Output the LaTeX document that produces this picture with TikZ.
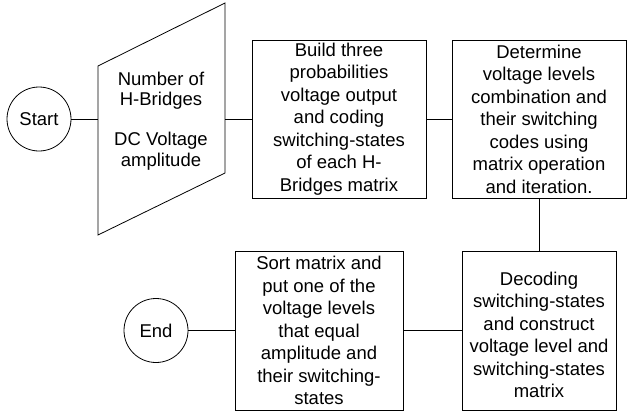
\documentclass[tikz,border=0pt]{standalone}
\usepackage{fontspec}
\setmainfont{Liberation Sans}
\begin{document}
\begin{tikzpicture}[x=1pt,y=-1pt,
  every node/.style={font=\fontsize{18.5}{22.5}\selectfont},
  term/.style={draw,circle,line width=0.8pt,minimum size=64pt,inner sep=0pt},
  procbox/.style={draw,rectangle,line width=0.8pt,align=center,inner sep=0pt},
  conn/.style={line width=0.8pt}]
\useasboundingbox (0,0) rectangle (628,412);
% start
\node[term] (start) at (39,119) {Start};
% trapezoid input
\coordinate (tTL) at (98,66);
\coordinate (tTR) at (225,3);
\coordinate (tBR) at (225,173);
\coordinate (tBL) at (98,235);
\draw[line width=0.8pt] (tTL) -- (tTR) -- (tBR) -- (tBL) -- cycle;
\coordinate (trapL) at (98,119);
\coordinate (trapR) at (225,119);
\node[align=center,font=\fontsize{18.5}{20.2}\selectfont] (trapText) at (161,121) {Number of\\H-Bridges\\[20.2pt]DC Voltage\\amplitude};
% boxes
\node[procbox,minimum width=174pt,minimum height=158pt] (build) at (339,119)
  {Build three\\probabilities\\voltage output\\and coding\\switching-states\\of each H-\\Bridges matrix};
\node[procbox,minimum width=174pt,minimum height=158pt] (determine) at (539,119)
  {Determine\\voltage levels\\combination and\\their switching\\codes using\\matrix operation\\and iteration.};
\node[procbox,minimum width=154pt,minimum height=159pt] (decode) at (539,330.5)
  {\mbox{}\\Decoding\\switching-states\\and construct\\voltage level and\\switching-states\\matrix};
\node[procbox,minimum width=168pt,minimum height=159pt] (sort) at (319,330.5)
  {Sort matrix and\\put one of the\\voltage levels\\that equal\\amplitude and\\their switching-\\states};
\node[term] (end) at (156,330.5) {End};
% connectors
\draw[conn] (start.east) -- (trapL);
\draw[conn] (trapR) -- (build.west);
\draw[conn] (build.east) -- (determine.west);
\draw[conn] (determine.south) -- (decode.north);
\draw[conn] (decode.west) -- (sort.west -| sort.east);
\draw[conn] (sort.west) -- (end.east);
\end{tikzpicture}
\end{document}
